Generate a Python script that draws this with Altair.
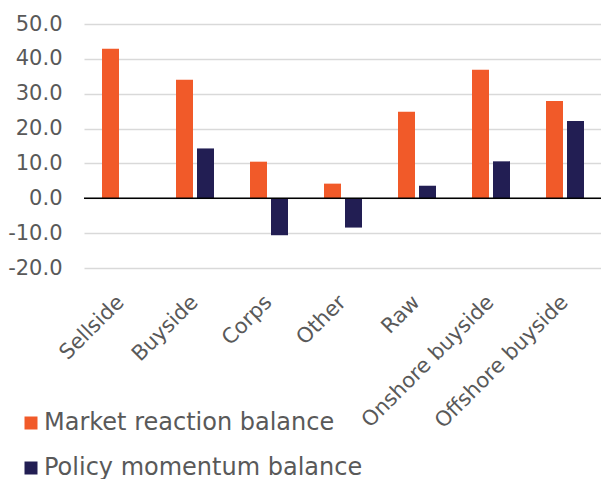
import altair as alt
import pandas as pd

# Survey groups and the two balance series
categories = ["Sellside", "Buyside", "Corps", "Other", "Raw", "Onshore buyside", "Offshore buyside"]
series = ["Market reaction balance", "Policy momentum balance"]
market_reaction = [42.9, 34.0, 10.5, 4.2, 24.8, 36.9, 27.9]
policy_momentum = [None, 14.3, -10.6, -8.4, 3.6, 10.6, 22.2]
y_ticks = [-20, -10, 0, 10, 20, 30, 40, 50]
colors = ["#F15A29", "#221E53"]

rows = []
for cat, mr, pm in zip(categories, market_reaction, policy_momentum):
    rows.append({"cat": cat, "series": series[0], "value": mr})
    if pm is not None:
        rows.append({"cat": cat, "series": series[1], "value": pm})
df = pd.DataFrame(rows)

FONT = "DejaVu Sans"
GREY = "#595959"
W, H = 518, 244
LEFT, TOP = 84, 24

y_scale = alt.Scale(domain=[-20, 50], nice=False, zero=False)
y_axis = alt.Axis(values=y_ticks, title=None,
                  labelExpr="(datum.value < 0 ? '-' : '') + format(abs(datum.value), '.1f')",
                  labelFont=FONT, labelFontSize=21, labelColor=GREY,
                  labelPadding=22, labelOverlap=False, labelFlush=False,
                  domain=False, ticks=False,
                  grid=True, gridColor="#D9D9D9", gridWidth=1.5)

bars = alt.Chart(df).mark_bar().encode(
    x=alt.X("cat:N", sort=categories,
            scale=alt.Scale(paddingInner=0, paddingOuter=0),
            axis=alt.Axis(labelAngle=-45, title=None,
                          labelFont=FONT, labelFontSize=21, labelColor=GREY,
                          labelPadding=23, labelOffset=-8,
                          domain=False, ticks=False, grid=False,
                          labelOverlap=False, labelLimit=400)),
    xOffset=alt.XOffset("series:N", sort=series,
                        scale=alt.Scale(paddingInner=4 / 21, paddingOuter=18 / 21)),
    y=alt.Y("value:Q", scale=y_scale, axis=y_axis),
    color=alt.Color("series:N", sort=series,
                    scale=alt.Scale(domain=series, range=colors),
                    legend=alt.Legend(orient="none", legendX=-65, legendY=387,
                                      title=None, direction="vertical",
                                      symbolType="square", symbolSize=169,
                                      symbolStrokeWidth=0, symbolOpacity=1,
                                      labelFont=FONT, labelFontSize=24,
                                      labelColor=GREY, labelOffset=1,
                                      rowPadding=21, padding=0,
                                      labelLimit=400)),
)

zero_line = alt.Chart(pd.DataFrame({"v": [0]})).mark_rule(
    color="black", strokeWidth=1.5).encode(y=alt.Y("v:Q", scale=y_scale, axis=y_axis))

chart = alt.layer(bars, zero_line).properties(
    width=W, height=H,
    background="white",
    autosize=alt.AutoSizeParams(type="none"),
    padding={"left": LEFT, "top": TOP, "right": 601 - LEFT - W,
             "bottom": 479 - TOP - H},
).configure_view(strokeWidth=0)

chart.save("out.html", embed_options={"renderer": "svg", "actions": False})
